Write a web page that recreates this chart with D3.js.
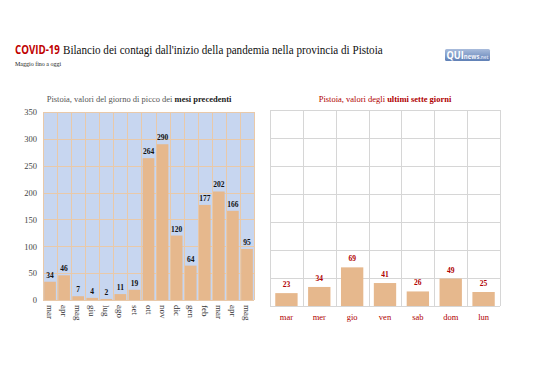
<!DOCTYPE html>
<html><head><meta charset="utf-8">
<script src="https://cdn.jsdelivr.net/npm/d3@7"></script>
<style>
html,body{margin:0;padding:0;background:#fff;}
svg{display:block;}
</style></head>
<body>
<svg id="c" width="538" height="380"></svg>
<script>
const monthLabels = ["mar","apr","mag","giu","lug","ago","set","ott","nov","dic","gen","feb","mar","apr","mag"];
const monthValues = [34,46,7,4,2,11,19,264,290,120,64,177,202,166,95];
const dayLabels = ["mar","mer","gio","ven","sab","dom","lun"];
const dayValues = [23,34,69,41,26,49,25];
const yTicks = [0,50,100,150,200,250,300,350];

const svg = d3.select("#c");
const serif = "'Liberation Serif','DejaVu Serif',serif";
const sans = "'Open Sans','Liberation Sans',sans-serif";
const barColor = "#e6b88d";

// Title: two pieces, each horizontally scaled to the reference widths
function fitText(sel, x, y, w) {
  const nat = sel.node().getComputedTextLength();
  const s = Math.min(1, w / nat);
  sel.attr("transform", `translate(${x},${y}) scale(${s},1)`);
}
const tA = svg.append("text").attr("font-family",sans).attr("font-weight","bold")
  .attr("font-size",12).attr("fill","#c00000").text("COVID-19");
fitText(tA, 15, 54, 45);
const tB = svg.append("text").attr("font-family",serif).attr("font-size",13).attr("fill","#111")
  .text("Bilancio dei contagi dall'inizio della pandemia nella provincia di Pistoia");
fitText(tB, 63, 54, 320);
svg.append("text").attr("x",15).attr("y",66).attr("font-size",6).attr("font-family",serif).attr("fill","#222").text("Maggio fino a oggi");

// Logo
const defs = svg.append("defs");
const g1 = defs.append("linearGradient").attr("id","lg").attr("x1",0).attr("y1",0).attr("x2",0).attr("y2",1);
g1.append("stop").attr("offset","0%").attr("stop-color","#a9bcdc");
g1.append("stop").attr("offset","100%").attr("stop-color","#5f80b6");
svg.append("rect").attr("x",445).attr("y",49).attr("width",45).attr("height",12).attr("rx",1.5).attr("fill","url(#lg)");
const lt = svg.append("text").attr("font-family",sans).attr("font-weight","bold").attr("fill","#fff");
lt.append("tspan").attr("font-size",10).text("QUI");
lt.append("tspan").attr("font-size",6.5).attr("fill","#f2f4fa").text("news");
lt.append("tspan").attr("font-size",5).attr("fill","#d5def0").text(".net");
fitText(lt, 446.5, 59, 42);

// ---------- Left chart ----------
const L = {x0:43, x1:254, y0:300, y1:112};
const xL = d3.scaleBand().domain(d3.range(monthLabels.length)).range([L.x0,L.x1]).paddingInner(0.17).paddingOuter(0.085);
const xLg = d3.scaleBand().domain(d3.range(monthLabels.length)).range([L.x0,L.x1]);
const yL = d3.scaleLinear().domain([0,350]).range([L.y0,L.y1]);

svg.append("rect").attr("x",L.x0).attr("y",L.y1).attr("width",L.x1-L.x0).attr("height",L.y0-L.y1).attr("fill","#c7d6f0");
const gridL = svg.append("g").attr("stroke","#e9c9a9").attr("stroke-width",1);
gridL.selectAll("line.h").data(yTicks).join("line").attr("class","h")
  .attr("x1",L.x0).attr("x2",L.x1).attr("y1",d=>Math.round(yL(d))+0.5).attr("y2",d=>Math.round(yL(d))+0.5);
gridL.selectAll("line.v").data(d3.range(monthLabels.length+1)).join("line").attr("class","v")
  .attr("x1",d=>Math.round(L.x0+d*xLg.bandwidth())+0.5).attr("x2",d=>Math.round(L.x0+d*xLg.bandwidth())+0.5)
  .attr("y1",L.y1).attr("y2",L.y0);

svg.append("g").selectAll("rect").data(monthValues).join("rect")
  .attr("x",(d,i)=>xL(i)).attr("width",xL.bandwidth())
  .attr("y",d=>yL(d)).attr("height",d=>yL(0)-yL(d)).attr("fill",barColor);

svg.append("g").selectAll("text").data(monthValues).join("text")
  .attr("x",(d,i)=>xL(i)+xL.bandwidth()/2).attr("y",d=>yL(d)-4)
  .attr("text-anchor","middle").attr("font-family",serif).attr("font-weight","bold")
  .attr("font-size",7.5).attr("fill","#111").text(d=>d);

// y axis
const yAx = svg.append("g").attr("transform",`translate(${L.x0-3},0)`)
  .call(d3.axisLeft(yL).tickValues(yTicks).tickSize(0).tickPadding(3));
yAx.select(".domain").remove();
yAx.selectAll("text").attr("font-family",serif).attr("font-size",8.5).attr("fill","#444");

// x axis rotated
const xAx = svg.append("g").attr("transform",`translate(0,${L.y0})`)
  .call(d3.axisBottom(xLg).tickSize(0).tickFormat(i=>monthLabels[i]));
xAx.select(".domain").remove();
xAx.selectAll("text").attr("font-family",serif).attr("font-size",9).attr("fill","#333")
  .attr("text-anchor","start").attr("dy","0.32em").attr("transform","translate(0,5) rotate(90)").attr("y",0).attr("x",0);

const st1 = svg.append("text").attr("x",139).attr("y",102).attr("text-anchor","middle").attr("font-family",serif).attr("font-size",8.5).attr("fill","#555");
st1.append("tspan").text("Pistoia, valori del giorno di picco dei ");
st1.append("tspan").attr("font-weight","bold").attr("fill","#222").text("mesi precedenti");

// ---------- Right chart ----------
const R = {x0:270, x1:500, y0:306, y1:110};
const xR = d3.scaleBand().domain(d3.range(dayLabels.length)).range([R.x0,R.x1]).paddingInner(0.32).paddingOuter(0.16);
const xRg = d3.scaleBand().domain(d3.range(dayLabels.length)).range([R.x0,R.x1]);
const yR = d3.scaleLinear().domain([0,350]).range([R.y0,R.y1]);

const gridR = svg.append("g").attr("stroke","#d6d6d6").attr("stroke-width",1);
gridR.selectAll("line.h").data(yTicks).join("line").attr("class","h")
  .attr("x1",R.x0).attr("x2",R.x1).attr("y1",d=>Math.round(yR(d))+0.5).attr("y2",d=>Math.round(yR(d))+0.5);
gridR.selectAll("line.v").data(d3.range(dayLabels.length+1)).join("line").attr("class","v")
  .attr("x1",d=>Math.round(R.x0+d*xRg.bandwidth())+0.5).attr("x2",d=>Math.round(R.x0+d*xRg.bandwidth())+0.5)
  .attr("y1",R.y1).attr("y2",R.y0);

svg.append("g").selectAll("rect").data(dayValues).join("rect")
  .attr("x",(d,i)=>xR(i)).attr("width",xR.bandwidth())
  .attr("y",d=>yR(d)).attr("height",d=>yR(0)-yR(d)).attr("fill",barColor);

svg.append("g").selectAll("text").data(dayValues).join("text")
  .attr("x",(d,i)=>xR(i)+xR.bandwidth()/2).attr("y",d=>yR(d)-6)
  .attr("text-anchor","middle").attr("font-family",serif).attr("font-weight","bold")
  .attr("font-size",7.5).attr("fill","#b00000").text(d=>d);

const xAxR = svg.append("g").attr("transform",`translate(0,${R.y0})`)
  .call(d3.axisBottom(xRg).tickSize(0).tickPadding(8).tickFormat(i=>dayLabels[i]));
xAxR.select(".domain").remove();
xAxR.selectAll("text").attr("font-family",serif).attr("font-size",8.5).attr("fill","#b00000");

const st2 = svg.append("text").attr("x",385).attr("y",102).attr("text-anchor","middle").attr("font-family",serif).attr("font-size",8.5).attr("fill","#b00000");
st2.append("tspan").text("Pistoia, valori degli ");
st2.append("tspan").attr("font-weight","bold").text("ultimi sette giorni");
</script>
</body></html>
